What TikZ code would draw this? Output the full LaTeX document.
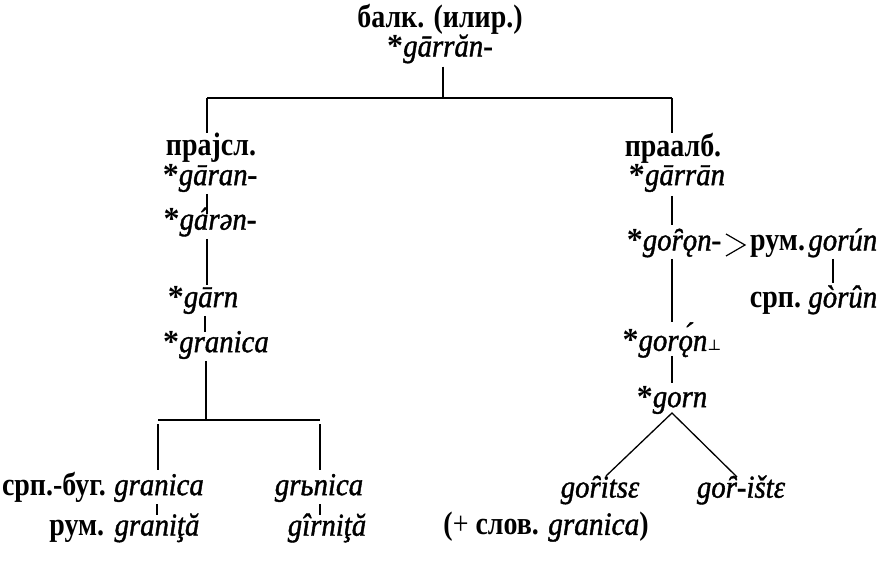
\documentclass[tikz,border=0pt]{standalone}
\usepackage{fontspec}
\setmainfont{Liberation Serif}
\newfontfamily\labfont{Liberation Serif}[FakeStretch=0.86]
\newfontfamily\formfont{Liberation Serif}[FakeBold=1.2, FakeStretch=0.9]
\newfontfamily\symfont{DejaVu Serif}
\newcommand{\rec}{{\rmfamily\upshape\bfseries*}}
\tikzset{
  lab/.style={font=\labfont\fontsize{32.5}{34}\selectfont\bfseries, inner sep=0pt},
  form/.style={font=\formfont\fontsize{32}{34}\selectfont\itshape, inner sep=0pt},
  tree/.style={line width=1.3pt},
}
\begin{document}
\begin{tikzpicture}[x=1pt,y=-1pt]
\useasboundingbox (0,0) rectangle (884,569);

% root
\node[lab]  (balk)   at (440,19)  {балк. (илир.)};
\node[form] (garran) at (440,49)  {\rec gārrăn-};
\coordinate (rootj) at (443,98);
\coordinate (lj) at (207,98);
\coordinate (rj) at (672,98);
\draw[tree] (garran.south -| rootj) ++(0,3) -- (rootj);
\draw[tree] (lj) -- (rj);

% left branch: Proto-Slavic
\node[lab]  (prasl)  at (211,148) {прајсл.};
\node[form] (garan)  at (210,178) {\rec gāran-};
\node[form] (garen)  at (210,222) {\rec gárən-};
\node[form] (garn)   at (203,300) {\rec gārn};
\node[form] (granic) at (216,345) {\rec granica};
\coordinate (bj) at (206,420);
\coordinate (bl) at (158,420);
\coordinate (br) at (320,420);
\draw[tree] (lj) -- (207,133);
\draw[tree] (207,194) -- (207,214);
\draw[tree] (207,239) -- (207,285);
\draw[tree] (205,316) -- (205,332);
\draw[tree] (206,361) -- (bj);
\draw[tree] (bl) -- (br);

\node[form] (gr1)  at (159,488) {granica};
\node[lab, anchor=base east] (srb) at ([xshift=-8pt]gr1.base west) {срп.-буг.};
\node[form] (gr2)  at (157,528) {graniţă};
\node[lab, anchor=base east] (rum1) at ([xshift=-10pt]gr2.base west) {рум.};
\node[form] (grn)  at (319,488) {grьnica};
\node[form] (grt)  at (327,528) {gîrniţă};
\draw[tree] (bl) ++(0,4) -- (158,470);
\draw[tree] (br) ++(0,4) -- (320,470);
\draw[tree] (157,504) -- (157,515);
\draw[tree] (320,504) -- (320,515);

% right branch: Proto-Albanian
\node[lab]  (praalb) at (673,148) {праалб.};
\node[form] (garrn)  at (677,178) {\rec gārrān};
\node[form] (goron)  at (674,243) {\rec goȓǫn-};
\coordinate (gtl) at (726,234);
\coordinate (gtr) at (745,245);
\coordinate (gtb) at (726,256);
\draw[line width=1.2pt] (gtl) -- (gtr) -- (gtb);
\node[lab, anchor=base west]  (rum2) at ([xshift=5pt]gtr |- goron.base) {рум.};
\node[form, anchor=base west] (gorun) at ([xshift=3pt]rum2.base east) {gorún};
\node[form, anchor=base east] (gorun2) at ([yshift=-57pt]gorun.base east) {gòrûn};
\node[lab, anchor=base east]  (srp)  at ([xshift=-7pt]gorun2.base west) {срп.};
\node[form] (goron2) at (672,340) {\rec gorǫ́n{\symfont\upshape\fontsize{15}{15}\selectfont⊥}};
\node[form] (gorn)   at (672,400) {\rec gorn};
\coordinate (apex) at (672,413);
\coordinate (vl) at (606,476);
\coordinate (vr) at (737,477);
\draw[tree] (rj) -- (672,133);
\draw[tree] (672,196) -- (672,225);
\draw[tree] (672,259) -- (672,322);
\draw[tree] (833,259) -- (833,283);
\draw[tree] (672,356) -- (672,383);
\draw[tree] (vl) -- (apex) -- (vr);

\node[form] (goritse) at (600,490) {goȓitsɛ};
\node[form] (gorishte) at (741,490) {goȓ-ištɛ};
\node[lab]  (plus)    at (546,527) {({\mdseries+} слов. {\formfont\mdseries\itshape granica})};
\end{tikzpicture}
\end{document}
